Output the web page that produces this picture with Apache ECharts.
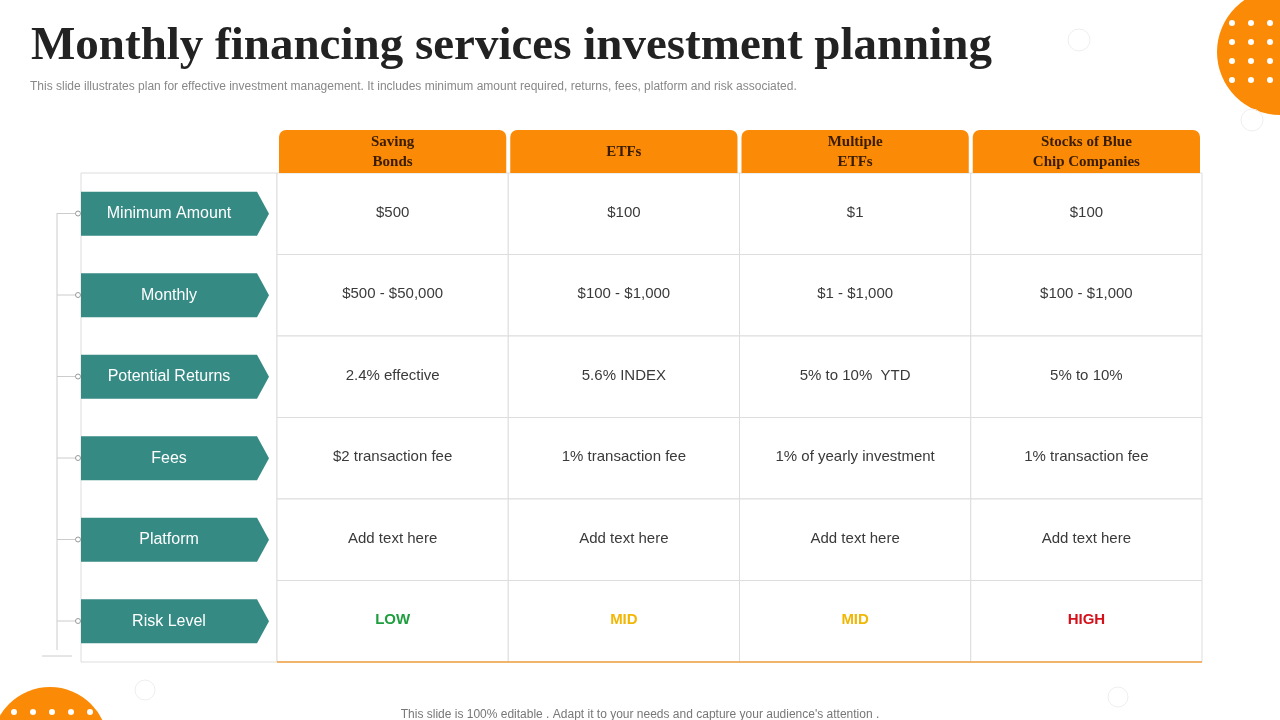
<!DOCTYPE html>
<html>
<head>
<meta charset="utf-8">
<script src="https://cdn.jsdelivr.net/npm/echarts@6/dist/echarts.min.js"></script>
<style>html,body{margin:0;padding:0;background:#fff}#main{width:1280px;height:720px}</style>
</head>
<body>
<div id="main"></div>
<script>
var columns = ['Saving\nBonds', 'ETFs', 'Multiple\nETFs', 'Stocks of Blue\nChip Companies'];
var rows = ['Minimum Amount', 'Monthly', 'Potential Returns', 'Fees', 'Platform', 'Risk Level'];
var minimumAmount = ['$500', '$100', '$1', '$100'];
var monthly = ['$500 - $50,000', '$100 - $1,000', '$1 - $1,000', '$100 - $1,000'];
var potentialReturns = ['2.4% effective', '5.6% INDEX', '5% to 10%  YTD', '5% to 10%'];
var fees = ['$2 transaction fee', '1% transaction fee', '1% of yearly investment', '1% transaction fee'];
var platform = ['Add text here', 'Add text here', 'Add text here', 'Add text here'];
var riskLevel = ['LOW', 'MID', 'MID', 'HIGH'];
var riskColors = {LOW: '#1e9e3e', MID: '#f2b705', HIGH: '#d4111b'};

var cells = [minimumAmount, monthly, potentialReturns, fees, platform, riskLevel];
var cellData = [];
cells.forEach(function (r, ri) {
  r.forEach(function (v, ci) { cellData.push([ci, ri, v]); });
});

var chart = echarts.init(document.getElementById('main'));
var teal = '#358a84', orange = '#fb8a06';

var decoDots = [];
for (var i = 0; i < 4; i++) for (var j = 0; j < 4; j++) {
  decoDots.push({type: 'circle', shape: {cx: 1232 + i * 19, cy: 23 + j * 19, r: 3}, style: {fill: '#fff'}});
}
var bottomDots = [];
for (var k = 0; k < 5; k++) {
  bottomDots.push({type: 'circle', shape: {cx: 14 + k * 19, cy: 712, r: 3}, style: {fill: '#fff'}});
}
var bracket = [{type: 'line', shape: {x1: 57, y1: 213, x2: 57, y2: 650}, style: {stroke: '#ccc', lineWidth: 1}},
  {type: 'line', shape: {x1: 42, y1: 656, x2: 72, y2: 656}, style: {stroke: '#ccc', lineWidth: 1}},
  {type: 'rect', shape: {x: 81, y: 173, width: 196, height: 489}, style: {fill: 'none', stroke: '#ddd', lineWidth: 1}}];
rows.forEach(function (r, i) {
  var y = 213.5 + i * 81.5;
  bracket.push({type: 'line', shape: {x1: 57, y1: y, x2: 76, y2: y}, style: {stroke: '#ccc'}});
  bracket.push({type: 'circle', shape: {cx: 78, cy: y, r: 2.5}, style: {fill: '#fff', stroke: '#999'}});
});

chart.setOption({
  animation: false,
  title: [{
    text: 'Monthly financing services investment planning', left: 26, top: 18,
    textStyle: {fontFamily: 'Liberation Serif', fontWeight: 'bold', fontSize: 47, color: '#222'}
  }, {
    text: 'This slide illustrates plan for effective investment management. It includes minimum amount required, returns, fees, platform and risk associated.',
    left: 25, top: 76, textStyle: {fontFamily: 'Liberation Sans', fontSize: 12, fontWeight: 'normal', color: '#888'}
  }, {
    text: "This slide is 100% editable . Adapt it to your needs and capture your audience's attention .",
    left: 'center', top: 704, textStyle: {fontFamily: 'Liberation Sans', fontSize: 12, fontWeight: 'normal', color: '#777'}
  }],
  graphic: [
    {type: 'circle', shape: {cx: 1280, cy: 52, r: 63}, style: {fill: orange}},
    {type: 'circle', shape: {cx: 50, cy: 745, r: 58}, style: {fill: orange}},
    {type: 'circle', shape: {cx: 1079, cy: 40, r: 11}, style: {fill: 'none', stroke: '#eee'}},
    {type: 'circle', shape: {cx: 1252, cy: 120, r: 11}, style: {fill: 'none', stroke: '#eee'}},
    {type: 'circle', shape: {cx: 145, cy: 690, r: 10}, style: {fill: 'none', stroke: '#eee'}},
    {type: 'circle', shape: {cx: 1118, cy: 697, r: 10}, style: {fill: 'none', stroke: '#eee'}}
  ].concat(decoDots, bottomDots, bracket, [
    {type: 'line', z: 100, shape: {x1: 277, y1: 662, x2: 1202, y2: 662}, style: {stroke: '#f0a040', lineWidth: 1.5}}
  ]),
  grid: [
    {left: 277, top: 173, width: 925, height: 489},
    {left: 277, top: 130, width: 925, height: 43},
    {left: 81, top: 173, width: 188, height: 489}
  ],
  xAxis: [
    {type: 'category', data: columns, gridIndex: 0, show: false},
    {type: 'category', data: columns, gridIndex: 1, show: false},
    {type: 'category', data: ['label'], gridIndex: 2, show: false}
  ],
  yAxis: [
    {type: 'category', data: rows, gridIndex: 0, inverse: true, show: false},
    {type: 'category', data: ['h'], gridIndex: 1, show: false},
    {type: 'category', data: rows, gridIndex: 2, inverse: true, show: false}
  ],
  series: [{
    type: 'custom', xAxisIndex: 0, yAxisIndex: 0, data: cellData,
    renderItem: function (params, api) {
      var p = api.coord([api.value(0), api.value(1)]);
      var s = api.size([1, 1]);
      var v = cellData[params.dataIndex][2];
      var risk = riskColors[v];
      return {type: 'group', children: [
        {type: 'rect', shape: {x: p[0] - s[0] / 2, y: p[1] - s[1] / 2, width: s[0], height: s[1]}, style: {fill: '#fff', stroke: '#ddd', lineWidth: 1}},
        {type: 'text', style: {x: p[0], y: p[1] - 1, text: v, align: 'center', verticalAlign: 'middle',
          font: (risk ? 'bold ' : '') + '15px "Liberation Sans"', fill: risk || '#3a3a3a'}}
      ]};
    }
  }, {
    type: 'custom', xAxisIndex: 1, yAxisIndex: 1,
    data: columns.map(function (c, i) { return [i, 0]; }),
    renderItem: function (params, api) {
      var p = api.coord([api.value(0), 0]);
      var w = api.size([1, 1]);
      return {type: 'group', children: [
        {type: 'rect', shape: {x: p[0] - w[0] / 2 + 2, y: p[1] - w[1] / 2, width: w[0] - 4, height: w[1], r: [7, 7, 0, 0]}, style: {fill: orange}},
        {type: 'text', style: {x: p[0], y: p[1] + 1, text: columns[params.dataIndex], align: 'center', verticalAlign: 'middle',
          font: 'bold 15px "Liberation Serif"', fill: '#3a1d00', lineHeight: 20}}
      ]};
    }
  }, {
    type: 'custom', xAxisIndex: 2, yAxisIndex: 2,
    data: rows.map(function (r, i) { return [0, i]; }),
    renderItem: function (params, api) {
      var p = api.coord([0, api.value(1)]);
      var x0 = params.coordSys.x, x1 = x0 + params.coordSys.width, h = 44;
      var y0 = p[1] - h / 2;
      return {type: 'group', children: [
        {type: 'polygon', shape: {points: [[x0, y0], [x1 - 12, y0], [x1, p[1]], [x1 - 12, y0 + h], [x0, y0 + h]]}, style: {fill: teal}},
        {type: 'text', style: {x: (x0 + x1 - 12) / 2, y: p[1], text: rows[params.dataIndex], align: 'center', verticalAlign: 'middle',
          font: '16px "Liberation Sans"', fill: '#fff'}}
      ]};
    }
  }]
});
</script>
</body>
</html>
